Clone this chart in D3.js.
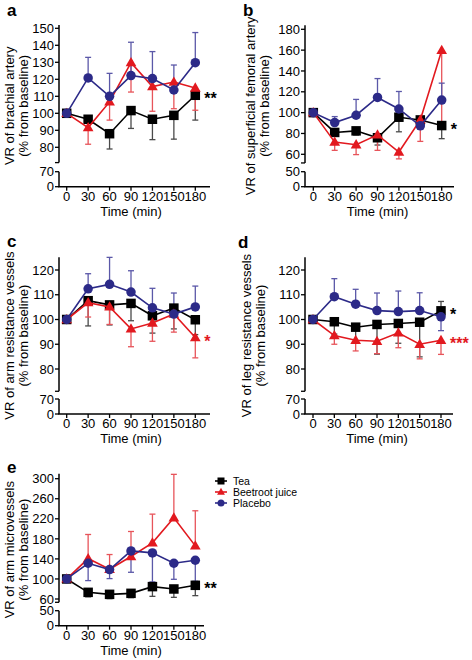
<!DOCTYPE html>
<html><head><meta charset="utf-8">
<script src="https://cdn.jsdelivr.net/npm/d3@7"></script>
<style>body{margin:0;background:#fff} svg{display:block} text{font-family:"Liberation Sans",Arial,sans-serif;fill:#000}</style>
</head><body><svg id="c" width="472" height="660"></svg>
<script>
// ---------- data ----------
const times = [0, 30, 60, 90, 120, 150, 180];
const seriesNames = ["Tea", "Beetroot juice", "Placebo"];

// panel a: VR of brachial artery
const aTea = [100, 96.5, 88, 101.6, 96.5, 98.8, 110.6];
const aTeaErr = [0, -2, -9, -10.5, -12, -14, -14.6];
const aBeet = [100, 91.6, 106.7, 129.8, 115.7, 118.4, 114.9];
const aBeetErr = [0, -9.8, -10.7, -17.3, -14.5, -15.7, -13.1];
const aPlac = [100, 120.8, 110, 122.2, 120.4, 113.7, 129.8];
const aPlacErr = [0, 12.1, 13.5, 19.6, 15.9, 14.7, 17.7];

// panel b: VR of superficial femoral artery
const bTea = [100, 81, 82.5, 75.9, 95.6, 93, 87.6];
const bTeaErr = [0, -3, -4, -7, -14, -5, -12.6];
const bBeet = [100, 71.7, 69.2, 78.7, 62.2, 93, 159.7];
const bBeetErr = [0, -7.9, -9.5, -14.9, -6.6, -20.6, -70];
const bPlac = [100, 90.5, 97.5, 114.6, 103.5, 87.3, 112.1];
const bPlacErr = [0, 5.7, 15.2, 18.1, 16.8, 8, 16.2];

// panel c: VR of arm resistance vessels
const cTea = [100, 107.6, 105.9, 106.5, 101.5, 104.6, 99.9];
const cTeaErr = [0, -10.2, -8.1, -7, -7, -8.4, -6];
const cBeet = [100, 106.8, 105.1, 96.2, 98.6, 102.2, 92.7];
const cBeetErr = [0, -5.8, -7.1, -7.2, -7.4, -7.3, -8.2];
const cPlac = [100, 112.4, 114.2, 111.1, 104.7, 102.2, 105.1];
const cPlacErr = [0, 6.1, 10.9, 8.6, 7.9, 8.5, 8.4];

// panel d: VR of leg resistance vessels
const dTea = [100, 99.1, 96.9, 98, 98.4, 98.9, 103.5];
const dTeaErr = [0, -5, -6, -12, -8, -14, 3.8];
const dBeet = [100, 93.5, 91.6, 91.2, 94.6, 90, 91.6];
const dBeetErr = [0, -3.5, -4.3, -5, -6, -5.9, -5.7];
const dPlac = [100, 109.2, 106.2, 103.6, 103.2, 103.6, 101.1];
const dPlacErr = [0, 7.3, 6, 7.1, 8.3, 7.2, -5.6];

// panel e: VR of arm microvessels
const eTea = [100, 73.3, 69.3, 71.3, 84.7, 80, 87.3];
const eTeaErr = [0, -9, -8.6, -8.6, -19.4, -16.7, -20.6];
const eBeet = [100, 140.7, 119.3, 144.7, 172, 222, 166];
const eBeetErr = [0, 48, 29.4, 50, 57.3, 86.7, 70];
const ePlac = [100, 131.3, 118.7, 156, 152, 131.3, 137.3];
const ePlacErr = [0, -34.6, -18, -42.7, -58, -32, -42];

// tick labels
const aUpperTicks = [80, 90, 100, 110, 120, 130, 140, 150];
const aLowerTicks = [0, 70];
const bUpperTicks = [60, 80, 100, 120, 140, 160, 180];
const bLowerTicks = [0, 50];
const cdUpperTicks = [80, 90, 100, 110, 120];
const cdLowerTicks = [0, 70];
const eUpperTicks = [60, 100, 140, 180, 220, 260, 300];
const eLowerTicks = [0, 50];

// significance marks: [series index, text]
const aStars = [[0, "**"]];
const bStars = [[0, "*"]];
const cStars = [[1, "*"]];
const dStars = [[0, "*"], [1, "***"]];
const eStars = [[0, "**"]];

// ---------- style ----------
const colors = ["#000000", "#e2191f", "#2c2a88"];
const errColors = ["#4a4a4a", "#e7545a", "#5b58a8"];
const FONT = 13;

const svg = d3.select("#c");

function marker(g, i, x, y, s) {
  if (i === 0) {
    g.append("rect").attr("x", x - s / 2).attr("y", y - s / 2).attr("width", s).attr("height", s).attr("fill", colors[0]);
  } else if (i === 1) {
    const sym = d3.symbol().type(d3.symbolTriangle).size(s * s * 0.55);
    g.append("path").attr("d", sym()).attr("transform", `translate(${x},${y + s * 0.06})`).attr("fill", colors[1]);
  } else {
    g.append("circle").attr("cx", x).attr("cy", y).attr("r", s / 2).attr("fill", colors[2]);
  }
}

function panel(cfg) {
  const g = svg.append("g");
  const x = d3.scaleLinear().domain([0, 180]).range([cfg.x0, cfg.x180]);
  const yU = d3.scaleLinear().domain(cfg.upDom).range(cfg.upRng);
  const yL = d3.scaleLinear().domain(cfg.lowDom).range(cfg.lowRng);
  const yZero = yL(0);

  // panel letter
  g.append("text").attr("x", cfg.letter[1]).attr("y", cfg.letter[2]).attr("font-size", 17).attr("font-weight", "bold").text(cfg.letter[0]);

  // y axis upper segment
  const ax = cfg.axisX;
  g.append("line").attr("x1", ax).attr("x2", ax).attr("y1", yU(cfg.upExt[0])).attr("y2", yU(cfg.upExt[1])).attr("stroke", "#000").attr("stroke-width", 1.5);
  g.append("line").attr("x1", ax - 4).attr("x2", ax).attr("y1", yU(cfg.upExt[0])).attr("y2", yU(cfg.upExt[0])).attr("stroke", "#000").attr("stroke-width", 1.3);
  cfg.upTicks.forEach(v => {
    g.append("line").attr("x1", ax - 4).attr("x2", ax).attr("y1", yU(v)).attr("y2", yU(v)).attr("stroke", "#000").attr("stroke-width", 1.3);
    g.append("text").attr("x", ax - 5).attr("y", yU(v)).attr("dy", "0.36em").attr("text-anchor", "end").attr("font-size", FONT).text(v);
  });
  // lower segment
  g.append("line").attr("x1", ax).attr("x2", ax).attr("y1", yL(cfg.lowDom[0])).attr("y2", yL(cfg.lowDom[1])).attr("stroke", "#000").attr("stroke-width", 1.5);
  cfg.lowTicks.forEach(v => {
    g.append("line").attr("x1", ax - 4).attr("x2", ax).attr("y1", yL(v)).attr("y2", yL(v)).attr("stroke", "#000").attr("stroke-width", 1.3);
    g.append("text").attr("x", ax - 5).attr("y", yL(v)).attr("dy", "0.36em").attr("text-anchor", "end").attr("font-size", FONT).text(v);
  });

  // x axis
  g.append("line").attr("x1", ax - 0.75).attr("x2", cfg.xEnd).attr("y1", yZero).attr("y2", yZero).attr("stroke", "#000").attr("stroke-width", 1.5);
  times.forEach(t => {
    g.append("line").attr("x1", x(t)).attr("x2", x(t)).attr("y1", yZero).attr("y2", yZero + 4).attr("stroke", "#000").attr("stroke-width", 1.3);
    g.append("text").attr("x", x(t)).attr("y", yZero + 14).attr("text-anchor", "middle").attr("font-size", FONT).text(t);
  });
  g.append("text").attr("x", (x(0) + x(180)) / 2).attr("y", yZero + 29).attr("text-anchor", "middle").attr("font-size", FONT).text("Time (min)");

  // y title
  const yc = (yZero + yU(cfg.upExt[1])) / 2;
  cfg.title.forEach((t, k) => {
    g.append("text").attr("transform", `translate(${cfg.titleX[k]},${yc}) rotate(-90)`).attr("text-anchor", "middle").attr("font-size", FONT).text(t);
  });

  // error bars
  cfg.series.forEach((s, i) => {
    s.v.forEach((v, j) => {
      const e = s.e[j];
      if (!e) return;
      const y1 = yU(v), y2 = yU(v + e);
      g.append("line").attr("x1", x(times[j])).attr("x2", x(times[j])).attr("y1", y1).attr("y2", y2).attr("stroke", errColors[i]).attr("stroke-width", 1.3);
      g.append("line").attr("x1", x(times[j]) - 3).attr("x2", x(times[j]) + 3).attr("y1", y2).attr("y2", y2).attr("stroke", errColors[i]).attr("stroke-width", 1.3);
    });
  });
  // lines + markers
  cfg.series.forEach((s, i) => {
    const line = d3.line().x((d, j) => x(times[j])).y(d => yU(d));
    g.append("path").attr("d", line(s.v)).attr("fill", "none").attr("stroke", colors[i]).attr("stroke-width", 1.6);
    s.v.forEach((v, j) => marker(g, i, x(times[j]), yU(v), 9.5));
  });
  // stars
  cfg.stars.forEach(([i, t]) => {
    const v = cfg.series[i].v[6];
    g.append("text").attr("x", x(180) + 9).attr("y", yU(v) + 9).attr("font-size", 16).attr("font-weight", "bold").style("fill", colors[i]).text(t);
  });
}

panel({letter: ["a", 7, 16], axisX: 59, x0: 66.7, x180: 195.3, xEnd: 210,
  upDom: [80, 150], upRng: [147.3, 28.3], upExt: [71, 152], lowDom: [0, 70], lowRng: [186.7, 171.7],
  upTicks: aUpperTicks, lowTicks: aLowerTicks,
  title: ["VR of brachial artery", "(% from baseline)"], titleX: [14, 28],
  series: [{v: aTea, e: aTeaErr}, {v: aBeet, e: aBeetErr}, {v: aPlac, e: aPlacErr}], stars: aStars});

panel({letter: ["b", 243, 16], axisX: 305, x0: 313.3, x180: 441.7, xEnd: 454,
  upDom: [60, 180], upRng: [154.3, 29.3], upExt: [51.7, 184], lowDom: [0, 50], lowRng: [186.7, 171.7],
  upTicks: bUpperTicks, lowTicks: bLowerTicks,
  title: ["VR of superficial femoral artery", "(% from baseline)"], titleX: [255, 269],
  series: [{v: bTea, e: bTeaErr}, {v: bBeet, e: bBeetErr}, {v: bPlac, e: bPlacErr}], stars: bStars});

panel({letter: ["c", 7, 247], axisX: 59, x0: 66.7, x180: 195.3, xEnd: 210,
  upDom: [80, 120], upRng: [369, 270], upExt: [71, 125.2], lowDom: [0, 70], lowRng: [414, 399],
  upTicks: cdUpperTicks, lowTicks: cdLowerTicks,
  title: ["VR of arm resistance vessels", "(% from baseline)"], titleX: [14, 28],
  series: [{v: cTea, e: cTeaErr}, {v: cBeet, e: cBeetErr}, {v: cPlac, e: cPlacErr}], stars: cStars});

panel({letter: ["d", 238, 248], axisX: 305, x0: 313, x180: 441, xEnd: 453,
  upDom: [80, 120], upRng: [369, 270], upExt: [71, 125.2], lowDom: [0, 70], lowRng: [414, 399],
  upTicks: cdUpperTicks, lowTicks: cdLowerTicks,
  title: ["VR of leg resistance vessels", "(% from baseline)"], titleX: [251, 265],
  series: [{v: dTea, e: dTeaErr}, {v: dBeet, e: dBeetErr}, {v: dPlac, e: dPlacErr}], stars: dStars});

panel({letter: ["e", 7, 473], axisX: 59, x0: 66.7, x180: 195.3, xEnd: 204,
  upDom: [60, 300], upRng: [599, 478.7], upExt: [53.4, 310], lowDom: [0, 50], lowRng: [625.7, 610.7],
  upTicks: eUpperTicks, lowTicks: eLowerTicks,
  title: ["VR of arm microvessels", "(% from baseline)"], titleX: [14, 28],
  series: [{v: eTea, e: eTeaErr}, {v: eBeet, e: eBeetErr}, {v: ePlac, e: ePlacErr}], stars: eStars});

// legend
const leg = svg.append("g");
seriesNames.forEach((n, i) => {
  const y = 481 + i * 11;
  leg.append("line").attr("x1", 215).attr("x2", 227).attr("y1", y).attr("y2", y).attr("stroke", colors[i]).attr("stroke-width", 1.6);
  marker(leg, i, 221, y, 7);
  leg.append("text").attr("x", 233).attr("y", y).attr("dy", "0.36em").attr("font-size", 10.5).text(n);
});
</script></body></html>
